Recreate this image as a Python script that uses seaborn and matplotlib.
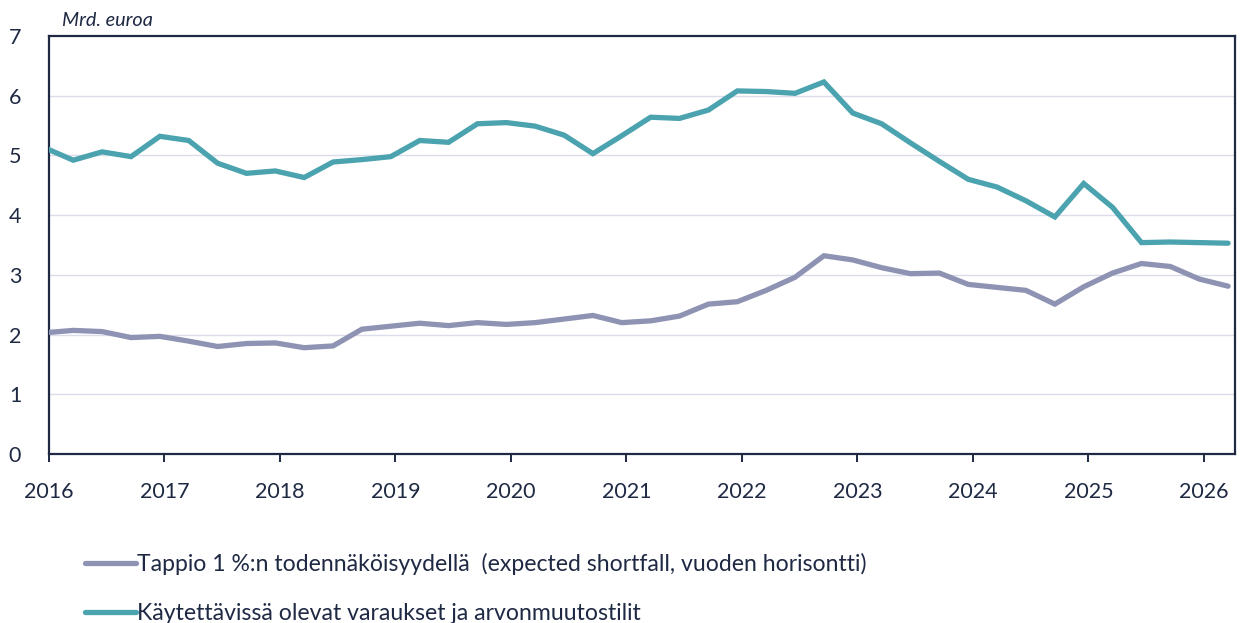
import numpy as np
import pandas as pd
import matplotlib
matplotlib.use("Agg")
import matplotlib.pyplot as plt
import seaborn as sns
from matplotlib.lines import Line2D

# ---- data (quarterly, Q4 2015 .. Q1 2026) ----
n_quarters = 42
first_pos = 2015.96  # position of first quarterly observation (decimal year)

shortfall = [2.03, 2.07, 2.05, 1.95, 1.97, 1.89, 1.80, 1.85, 1.86, 1.78,
             1.81, 2.09, 2.14, 2.19, 2.15, 2.20, 2.17, 2.20, 2.26, 2.32,
             2.20, 2.23, 2.31, 2.51, 2.55, 2.74, 2.96, 3.32, 3.25, 3.12,
             3.02, 3.03, 2.84, 2.79, 2.74, 2.51, 2.80, 3.03, 3.19, 3.14,
             2.93, 2.81]
reserves = [5.13, 4.92, 5.06, 4.98, 5.32, 5.25, 4.87, 4.70, 4.74, 4.63,
            4.89, 4.93, 4.98, 5.25, 5.22, 5.53, 5.55, 5.49, 5.34, 5.03,
            5.33, 5.64, 5.62, 5.76, 6.08, 6.07, 6.04, 6.23, 5.71, 5.53,
            5.21, 4.90, 4.60, 4.47, 4.24, 3.97, 4.53, 4.13, 3.54, 3.55,
            3.54, 3.53]

label_short = "Tappio 1 %:n todennäköisyydellä  (expected shortfall, vuoden horisontti)"
label_res = "Käytettävissä olevat varaukset ja arvonmuutostilit"
year_ticks = list(range(2016, 2027))
y_ticks = list(range(0, 8))
y_unit = "Mrd. euroa"

col_short = "#8E93B3"
col_res = "#4BA3AF"
navy = "#1F2944"
grid_col = "#DCDDEC"

x = first_pos + 0.25 * np.arange(n_quarters)
df = pd.concat([
    pd.DataFrame({"x": x, "value": shortfall, "series": label_short}),
    pd.DataFrame({"x": x, "value": reserves, "series": label_res}),
])

sns.set_theme(style="white")
plt.rcParams["font.family"] = ["Lato", "DejaVu Sans"]

fig = plt.figure(figsize=(12.47, 6.23), dpi=100)
ax = fig.add_axes([49 / 1247, 1 - 454 / 623, (1235 - 49) / 1247, (454 - 36) / 623])

sns.lineplot(data=df, x="x", y="value", hue="series",
             hue_order=[label_short, label_res],
             palette=[col_short, col_res], linewidth=3.8, ax=ax,
             legend=False, solid_joinstyle="miter", zorder=3)

ax.set_xlim(2016.0, 2026.27)
ax.set_ylim(0, 7)
ax.set_xticks(year_ticks)
ax.set_xticklabels([str(y) for y in year_ticks])
ax.set_yticks(y_ticks)
ax.set_xlabel("")
ax.set_ylabel("")

for yv in y_ticks[1:-1]:
    ax.axhline(yv, color=grid_col, lw=1.0, zorder=1)

for s in ax.spines.values():
    s.set_color(navy)
    s.set_linewidth(1.6)
    s.set_visible(True)

ax.tick_params(axis="x", which="major", direction="out", length=6, width=1.4,
               color=navy, labelcolor=navy, labelsize=15.5, pad=14, bottom=True)
ax.tick_params(axis="y", which="major", length=0, labelcolor=navy,
               labelsize=15.5, pad=20, left=False)

fig.text(62 / 1247, 1 - 20 / 623, y_unit, ha="left", va="center",
         fontsize=14.3, style="italic", color=navy)

handles = [Line2D([], [], color=col_short, lw=3.8),
           Line2D([], [], color=col_res, lw=3.8)]
fig.legend(handles, [label_short, label_res], loc="upper left",
           bbox_to_anchor=(76 / 1247, 1 - 544 / 623), frameon=False,
           fontsize=16.6, labelcolor=navy, handlelength=2.2,
           handletextpad=0.05, labelspacing=1.2, borderaxespad=0)

fig.savefig("out.png", dpi=100)
